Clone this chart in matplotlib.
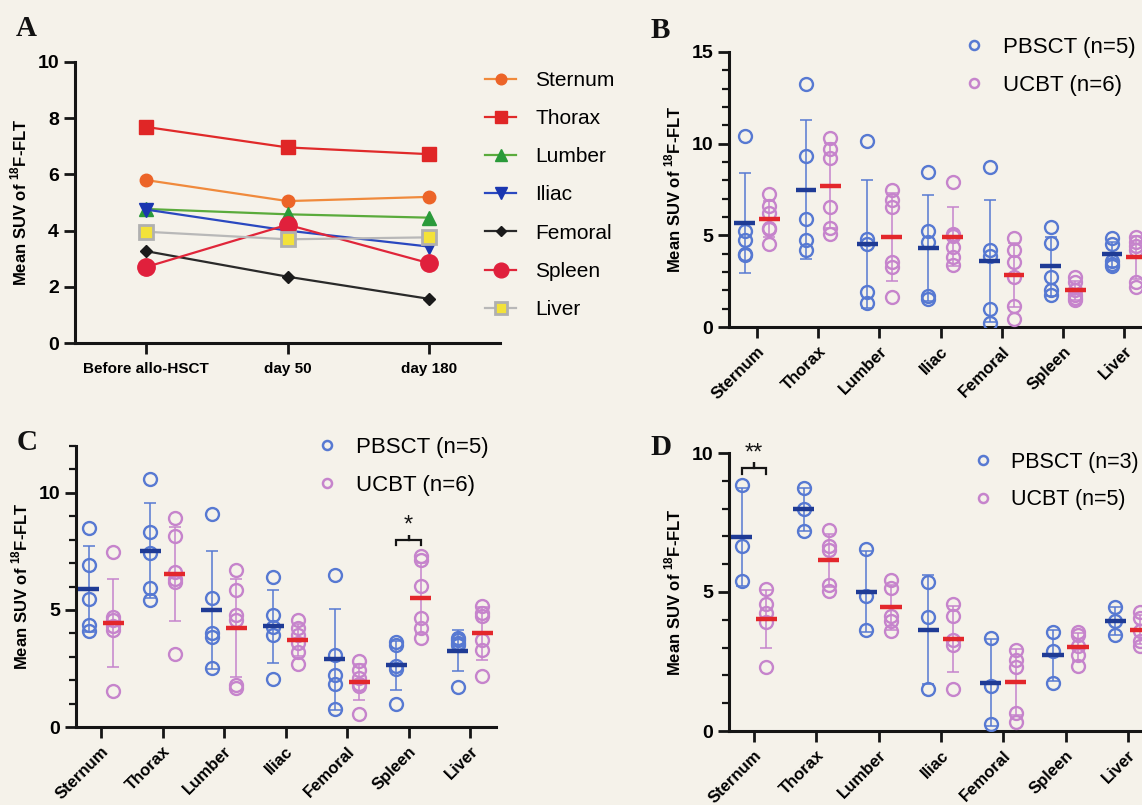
import matplotlib
matplotlib.use('Agg')
import matplotlib.pyplot as plt
import numpy as np
from matplotlib.lines import Line2D

plt.rcParams['font.family'] = ['Liberation Sans', 'DejaVu Sans']
plt.rcParams['mathtext.fontset'] = 'custom'
plt.rcParams['mathtext.rm'] = 'Liberation Sans'
plt.rcParams['mathtext.bf'] = 'Liberation Sans:bold'

# ---------------- data ----------------
organs = ['Sternum', 'Thorax', 'Lumber', 'Iliac', 'Femoral', 'Spleen', 'Liver']
timepoints = ['Before allo-HSCT', 'day 50', 'day 180']

A_sternum = [5.80, 5.05, 5.20]
A_thorax = [7.69, 6.96, 6.72]
A_lumber = [4.77, 4.58, 4.46]
A_iliac = [4.75, 4.00, 3.43]
A_femoral = [3.27, 2.36, 1.57]
A_spleen = [2.70, 4.21, 2.84]
A_liver = [3.96, 3.69, 3.76]

B_pbsct = [
    [10.42, 5.22, 4.77, 4.00, 3.90],
    [13.25, 9.33, 5.87, 4.77, 4.19],
    [10.14, 4.82, 4.51, 1.93, 1.30],
    [8.48, 5.22, 4.64, 1.70, 1.52],
    [8.70, 4.22, 3.86, 0.97, 0.22],
    [5.45, 4.58, 2.71, 2.02, 1.75],
    [4.85, 4.55, 3.60, 3.45, 3.35],
]
B_ucbt = [
    [7.25, 6.60, 6.20, 5.40, 5.35, 4.50],
    [10.32, 9.69, 9.24, 6.57, 5.40, 5.05],
    [7.47, 6.93, 6.53, 3.56, 3.29, 1.66],
    [7.92, 5.09, 4.95, 4.37, 3.83, 3.38],
    [4.87, 4.19, 3.56, 2.74, 1.12, 0.43],
    [2.74, 2.47, 2.02, 1.75, 1.57, 1.48],
    [4.90, 4.65, 4.40, 4.20, 2.45, 2.20],
]
C_pbsct = [
    [8.50, 6.91, 5.47, 4.37, 4.12],
    [10.57, 8.32, 7.41, 5.94, 5.44],
    [9.10, 5.51, 4.02, 3.85, 2.52],
    [6.40, 4.80, 4.26, 3.95, 2.05],
    [6.48, 3.09, 2.24, 1.84, 0.77],
    [3.62, 3.49, 2.59, 2.48, 1.00],
    [3.80, 3.70, 3.60, 3.50, 1.71],
]
C_ucbt = [
    [7.46, 4.70, 4.56, 4.30, 4.16, 1.52],
    [8.93, 8.15, 6.61, 6.32, 6.18, 3.13],
    [6.72, 5.84, 4.80, 4.56, 1.81, 1.67],
    [4.56, 4.23, 3.92, 3.59, 3.20, 2.69],
    [2.81, 2.42, 2.09, 1.85, 1.77, 0.57],
    [7.29, 7.12, 6.01, 4.66, 4.23, 3.80],
    [5.16, 4.87, 4.73, 3.73, 3.30, 2.19],
]
D_pbsct = [
    [8.86, 6.67, 5.38],
    [8.74, 7.98, 7.20],
    [6.55, 4.86, 3.64],
    [5.35, 4.09, 1.50],
    [3.36, 1.62, 0.25],
    [3.55, 2.86, 1.74],
    [4.45, 3.97, 3.46],
]
D_ucbt = [
    [5.11, 4.56, 4.26, 3.93, 2.32],
    [7.24, 6.64, 6.52, 5.26, 5.02],
    [5.44, 5.14, 4.12, 3.94, 3.60],
    [4.57, 4.12, 3.28, 3.10, 1.50],
    [2.92, 2.56, 2.32, 0.64, 0.34],
    [3.55, 3.46, 3.07, 2.74, 2.35],
    [4.27, 4.06, 3.58, 3.22, 3.06],
]
legend_B = ['PBSCT (n=5)', 'UCBT (n=6)']
legend_C = ['PBSCT (n=5)', 'UCBT (n=6)']
legend_D = ['PBSCT (n=3)', 'UCBT (n=5)']

# ---------------- style ----------------
W, H = 1142, 805
BG = '#f5f2ea'
BLUE_PT = '#5779d2'
PINK_PT = '#c684cc'
BLUE_MEAN = '#1f3b95'
RED_MEAN = '#e3272b'
ylab = r'Mean SUV of $^{\mathbf{18}}$F-FLT'

fig = plt.figure(figsize=(W / 100, H / 100), dpi=100)
fig.patch.set_facecolor(BG)


def axes_px(x0, ytop, x1, ybot):
    ax = fig.add_axes([x0 / W, 1 - ybot / H, (x1 - x0) / W, (ybot - ytop) / H])
    ax.set_facecolor('none')
    for s in ['top', 'right']:
        ax.spines[s].set_visible(False)
    for s in ['left', 'bottom']:
        ax.spines[s].set_linewidth(2.2)
        ax.spines[s].set_color('#151515')
    ax.tick_params(axis='both', which='major', length=8, width=2.0, color='#151515')
    ax.tick_params(axis='y', which='minor', length=5, width=1.6, color='#151515')
    return ax


def style_ticklabels(ax, ysize=14):
    for lab in ax.get_yticklabels():
        lab.set_fontweight('bold')
        lab.set_fontsize(ysize)


# ---------------- Panel A ----------------
axA = axes_px(75, 62, 500, 343)
xA = np.arange(len(timepoints))
series = [
    ('Sternum', A_sternum, dict(color='#f08a3c', marker='o', ms=9, mfc='#ec6428', mec='#ec6428')),
    ('Thorax', A_thorax, dict(color='#e02a2a', marker='s', ms=10, mfc='#e02626', mec='#e02626')),
    ('Lumber', A_lumber, dict(color='#5aab3c', marker='^', ms=10, mfc='#2a9a3a', mec='#2a9a3a')),
    ('Iliac', A_iliac, dict(color='#2a48c0', marker='v', ms=10, mfc='#1a36b0', mec='#1a36b0')),
    ('Femoral', A_femoral, dict(color='#2a2a2a', marker='D', ms=6.5, mfc='#1a1a1a', mec='#1a1a1a')),
    ('Spleen', A_spleen, dict(color='#e0263a', marker='o', ms=12.5, mfc='#e0203c', mec='#e0203c')),
    ('Liver', A_liver, dict(color='#b8b8b8', marker='s', ms=10, mfc='#f3e23a', mec='#b0b0b0', mew=2)),
]
for name, vals, kw in series:
    axA.plot(xA, vals, lw=1.6, label=name, **kw)
axA.set_xlim(-0.5, 2.5)
axA.set_ylim(0, 10)
axA.set_yticks([0, 2, 4, 6, 8, 10])
axA.set_xticks(xA)
axA.set_xticklabels(timepoints, fontsize=11, fontweight='bold')
axA.tick_params(axis='x', pad=6)
style_ticklabels(axA)
axA.set_ylabel(ylab, fontsize=12, fontweight='bold', labelpad=6)
legA = axA.legend(loc='upper left', bbox_to_anchor=(485 / W, 1 - 71 / H), bbox_transform=fig.transFigure,
                  frameon=False, fontsize=15, handlelength=1.5, handletextpad=0.9, labelspacing=0.92,
                  borderpad=0, borderaxespad=0, markerscale=0.85)


# ---------------- scatter panels ----------------
def scatter_panel(ax, pb, uc, off=0.2):
    for i in range(len(organs)):
        for vals, dx, pc, mc in [(pb[i], -off, BLUE_PT, BLUE_MEAN), (uc[i], off, PINK_PT, RED_MEAN)]:
            v = np.asarray(vals)
            x = i + dx
            ax.plot(np.full(v.size, x), v, 'o', ms=9.3, mfc='none', mec=pc, mew=1.7, zorder=3)
            m = v.mean()
            sd = v.std(ddof=1)
            ax.errorbar([x], [m], yerr=[sd], fmt='none', ecolor=pc, elinewidth=1.1, capsize=4,
                        capthick=1.1, zorder=4)
            ax.plot([x - 0.17, x + 0.17], [m, m], color=mc, lw=3.2, solid_capstyle='butt', zorder=5)
    ax.set_xticks(np.arange(len(organs)))
    ax.set_xticklabels(organs, rotation=45, ha='right', va='top', rotation_mode='anchor',
                       fontsize=12, fontweight='bold')
    ax.tick_params(axis='x', pad=4)
    ax.yaxis.set_minor_locator(matplotlib.ticker.MultipleLocator(1))


def group_legend(ax, labels, x_px, y_px, fs=16):
    handles = [Line2D([], [], ls='none', marker='o', ms=6.5, mfc='none', mec=BLUE_PT, mew=1.8),
               Line2D([], [], ls='none', marker='o', ms=6.5, mfc='none', mec=PINK_PT, mew=1.8)]
    ax.legend(handles, labels, loc='upper left', bbox_to_anchor=(x_px / W, 1 - y_px / H),
              bbox_transform=fig.transFigure, frameon=False, fontsize=fs, handlelength=1.0,
              handletextpad=0.8, labelspacing=0.76, borderpad=0, borderaxespad=0)


def bracket(ax, x1, x2, y, text):
    h = 0.22
    xm = (x1 + x2) / 2
    ax.plot([x1, x1, xm, xm, xm, x2, x2], [y - h, y, y, y + h, y, y, y - h], color='#151515', lw=1.6,
            solid_joinstyle='miter', zorder=6)
    ax.text(xm, y + 0.12, text, ha='center', va='bottom', fontsize=17, color='#151515')


# Panel B
axB = axes_px(729, 52, 1142, 327)
scatter_panel(axB, B_pbsct, B_ucbt)
axB.set_xlim((729 - 757) / 61.2, (1142 - 757) / 61.2)
axB.set_ylim(0, 15)
axB.set_yticks([0, 5, 10, 15])
style_ticklabels(axB)
axB.set_ylabel(ylab, fontsize=12, fontweight='bold', labelpad=6)
group_legend(axB, legend_B, 963, 37)

# Panel C
axC = axes_px(76, 446, 496, 727)
scatter_panel(axC, C_pbsct, C_ucbt)
axC.set_xlim((76 - 101) / 61.5, (496 - 101) / 61.5)
axC.set_ylim(0, 12)
axC.set_yticks([0, 5, 10])
style_ticklabels(axC)
axC.set_ylabel(ylab, fontsize=12, fontweight='bold', labelpad=6)
group_legend(axC, legend_C, 316, 437)
bracket(axC, 5 - 0.2, 5 + 0.2, 8.0, '*')

# Panel D
axD = axes_px(729, 453, 1142, 731)
scatter_panel(axD, D_pbsct, D_ucbt)
axD.set_xlim((729 - 754) / 62.3, (1142 - 754) / 62.3)
axD.set_ylim(0, 10)
axD.set_yticks([0, 5, 10])
style_ticklabels(axD)
axD.set_ylabel(ylab, fontsize=12, fontweight='bold', labelpad=6)
group_legend(axD, legend_D, 972, 452, fs=15.5)
bracket(axD, 0 - 0.2, 0 + 0.2, 9.45, '**')

# panel letters
for letter, (px, py) in zip('ABCD', [(26, 28), (660, 31), (27, 442), (661, 447)]):
    fig.text(px / W, 1 - py / H, letter, fontsize=21, fontweight='bold', family='Liberation Serif',
             ha='center', va='center', color='#111111')

fig.savefig('out.png', dpi=100, facecolor=BG)
